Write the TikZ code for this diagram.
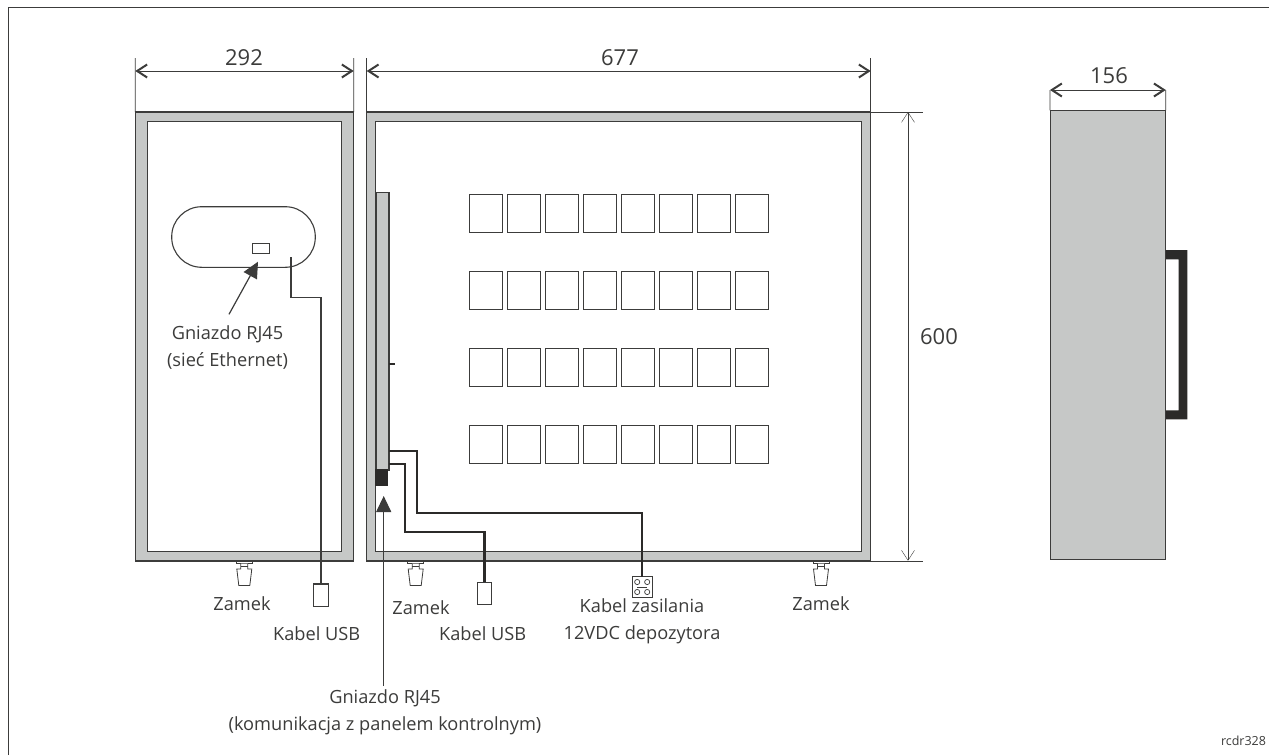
\documentclass[tikz,border=0pt]{standalone}
\usepackage{fontspec}
\setmainfont{Open Sans}
\usetikzlibrary{arrows.meta}
\definecolor{inkc}{HTML}{3C3C3B}
\definecolor{casec}{HTML}{C6C8C7}
\definecolor{blackc}{HTML}{2B2A29}
\tikzset{
  x=1pt,y=-1pt,
  box/.style={rectangle,inner sep=0pt,outer sep=0pt,draw=inkc,line width=1.1pt},
  casebox/.style={box,fill=casec},
  cell/.style={box,fill=white,line width=1.1pt,minimum width=33.5pt,minimum height=38pt},
  lbl/.style={text=inkc,font=\fontsize{18.2}{27}\selectfont,inner sep=0pt,align=center},
  numlbl/.style={lbl,font=\fontsize{22}{22}\selectfont},
  dim/.style={draw=inkc,line width=.9pt,{Straight Barb[length=10pt,width=13pt,line width=2pt]}-{Straight Barb[length=10pt,width=13pt,line width=2pt]}},
  thindim/.style={draw=inkc,line width=.6pt,{Straight Barb[length=10pt,width=13pt,line width=.4pt]}-{Straight Barb[length=10pt,width=13pt,line width=.4pt]}},
  ext/.style={draw=inkc,line width=.7pt},
  cable/.style={draw=blackc,line width=2.1pt},
  thincable/.style={draw=inkc,line width=1.2pt},
  pointer/.style={draw=inkc,line width=1.2pt,-{Triangle[length=16pt,width=15pt]}},
  lockpart/.style={draw=inkc,line width=.8pt,fill=white},
}
\newcommand{\lockat}[1]{%
  \begin{scope}[shift={(#1,0)}]
    \draw[lockpart] (-8,561.5) rectangle (8,563.5);
    \draw[lockpart] (-3.5,563.5) -- (-3.5,569) -- (-7.5,569) -- (-5.5,585.5) -- (5.5,585.5) -- (7.5,569) -- (3.5,569) -- (3.5,563.5);
    \draw[lockpart] (-3.5,566) -- (3.5,566);
  \end{scope}}
\begin{document}
\begin{tikzpicture}
\useasboundingbox (0,0) rectangle (1269,755);
\fill[white] (0,0) rectangle (1269,755);
% page frame
\draw[inkc,line width=.9pt] (8.5,755) -- (8.5,7.5) -- (1269,7.5);
% left door
\node[casebox,minimum width=218.5pt,minimum height=449pt] (door) at (244.5,336.5) {};
\node[box,fill=white,minimum width=194pt,minimum height=430pt] (doorin) at (244.7,336.5) {};
% cabinet
\node[casebox,minimum width=504pt,minimum height=449pt] (cab) at (618.7,336.5) {};
\node[box,fill=white,minimum width=485.5pt,minimum height=430pt] (cabin) at (618.5,336.5) {};
% side view
\node[casebox,minimum width=115.7pt,minimum height=449pt] (side) at (1107.9,334.8) {};
\fill[blackc] (1166,250) -| (1187.3,419.3) -| (1166,410.3) -| (1178.7,259.3) -| (1166,250) -- cycle;
% oblong window
\node[box,fill=white,rounded corners=30pt,minimum width=143.6pt,minimum height=60.6pt] (window) at (243.5,237) {};
\node[box,line width=1pt,minimum width=17pt,minimum height=10.4pt] (rj45a) at (261.3,248.5) {};
% panel
\node[casebox,minimum width=13pt,minimum height=277.7pt] (panel) at (382.5,331.2) {};
\node[box,fill=blackc,draw=blackc,minimum width=11pt,minimum height=15pt] (rj45b) at (381.5,477.5) {};
\fill[blackc] (389,362.8) rectangle (394.5,364.8);
% cells
\foreach \r/\yy in {0/213.2,1/290.3,2/367.3,3/444.3}{
  \foreach \c in {0,...,7}{
    \node[cell] (c\r\c) at ({485.8+38*\c},\yy) {};
  }
}
% locks
\lockat{244.3}
\lockat{415.7}
\lockat{821}
% plugs
\node[box,minimum width=14.3pt,minimum height=22.7pt,fill=white] (usba) at (321,595.3) {};
\node[box,minimum width=14.3pt,minimum height=22.4pt,fill=white] (usbb) at (484.5,593.5) {};
\node[box,line width=.8pt,minimum width=19.7pt,minimum height=20.6pt,fill=white] (power) at (642.2,587) {};
\foreach \dx/\dy in {-5/-5,5/-5,-5/5,5/5}{
  \draw[inkc,line width=.7pt] (642.2+\dx,587+\dy) circle (2.6pt);
}
\draw[inkc,line width=.8pt] (637,587) -- (647.4,587);
% cables
\coordinate (a1) at (291,257.3);
\draw[thincable] (a1) -- (291,297.7) -- (321,297.7) -- (usba.north);
\draw[cable] (panel.east |- 0,451) -- (416.7,451) -- (416.7,512.7) -- (642.2,512.7) -- (power.north);
\draw[cable] (panel.east |- 0,464) -- (405,464) -- (405,531.7) -- (484.5,531.7) -- (usbb.north);
% labels
\node[lbl] (eth) at (227.5,348) {Gniazdo RJ45\\(sieć Ethernet)};
\node[lbl] (z1) at (242,604) {Zamek};
\node[lbl] (u1) at (316.7,634) {Kabel USB};
\node[lbl] (z2) at (421,608) {Zamek};
\node[lbl] (u2) at (482.7,634) {Kabel USB};
\node[lbl] (pw) at (642,621.5) {Kabel zasilania\\12VDC depozytora};
\node[lbl] (z3) at (821,604) {Zamek};
\node[lbl] (kom) at (385,712) {Gniazdo RJ45\\(komunikacja z panelem kontrolnym)};
\node[lbl,font=\fontsize{12.5}{12.5}\selectfont] (code) at (1243.5,740.5) {rcdr328};
% pointers
\coordinate (pa) at (229,314.3);
\coordinate (pat) at (258,261.7);
\draw[pointer] (pa) -- (pat);
\coordinate (pb) at (383.7,686);
\coordinate (pbt) at (383.7,496);
\draw[pointer] (pb) -- (pbt);
% dimensions
\coordinate (d1) at (135.3,71); \coordinate (d2) at (353.7,71);
\coordinate (d3) at (366.7,71); \coordinate (d4) at (870.7,71);
\coordinate (d5) at (1050,90); \coordinate (d6) at (1165.8,90);
\coordinate (d7) at (908,112); \coordinate (d8) at (908,560.7);
\draw[ext] (door.north west) -- (135.3,58);
\draw[ext] (door.north east) -- (353.7,58);
\draw[ext] (cab.north west) -- (366.7,58);
\draw[ext] (cab.north east) -- (870.7,58);
\draw[ext] (cab.north east) -- (922.7,112);
\draw[ext] (cab.south east) -- (922.7,561);
\draw[ext] (side.north west) -- (d5);
\draw[ext] (side.north east) -- (d6);
\draw[dim] (d1) -- (d2);
\draw[dim] (d3) -- (d4);
\draw[dim] (d5) -- (d6);
\draw[thindim] (d7) -- (d8);
\node[numlbl] (l292) at (244,58) {292};
\node[numlbl] (l677) at (620,58) {677};
\node[numlbl] (l156) at (1109,76) {156};
\node[numlbl] (l600) at (939,337) {600};
\end{tikzpicture}
\end{document}
